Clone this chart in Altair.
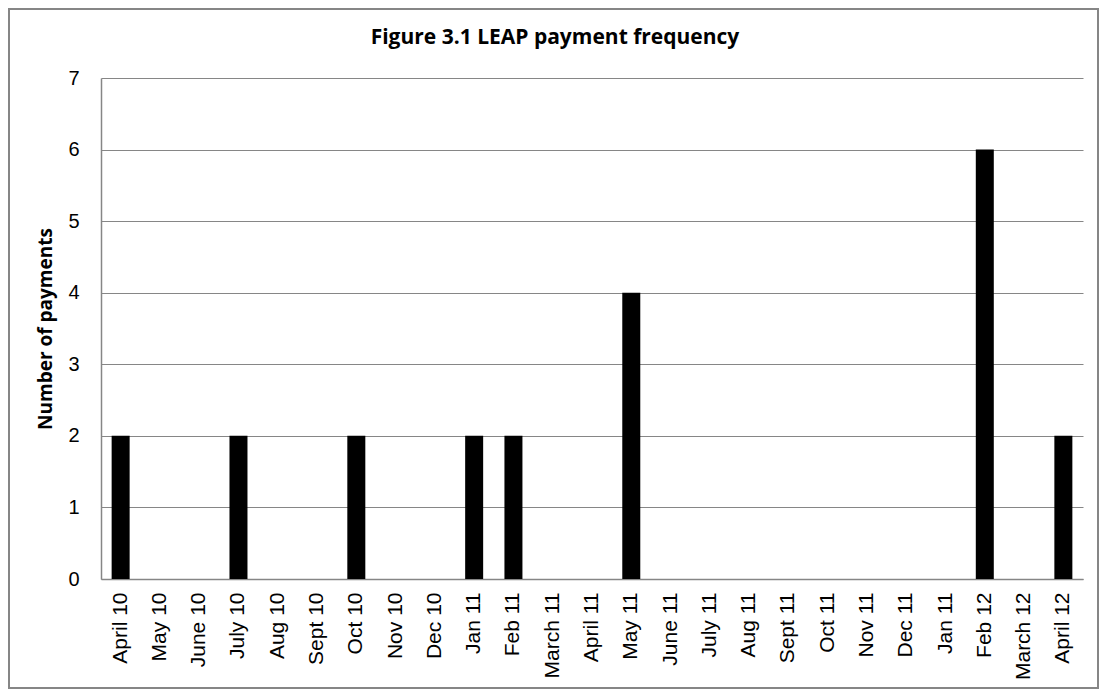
import json
import altair as alt
import pandas as pd

months = ["April 10", "May 10", "June 10", "July 10", "Aug 10", "Sept 10", "Oct 10",
          "Nov 10", "Dec 10", "Jan 11", "Feb 11", "March 11", "April 11", "May 11",
          "June 11", "July 11", "Aug 11", "Sept 11", "Oct 11", "Nov 11", "Dec 11",
          "Jan 11", "Feb 12", "March 12", "April 12"]
payments = [2, 0, 0, 2, 0, 0, 2, 0, 0, 2, 2, 0, 0, 4, 0, 0, 0, 0, 0, 0, 0, 0, 6, 0, 2]
title_text = "Figure 3.1 LEAP payment frequency"

df = pd.DataFrame({"idx": list(range(len(months))), "month": months, "n": payments})

W, H = 982, 501
PL, PT, PR, PB = 93, 70, 16, 110
grid_col = "#868686"

label_expr = json.dumps(months) + "[datum.value]"

bars = alt.Chart(df).mark_bar(color="black", width=18).encode(
    x=alt.X("idx:O", sort=None,
            axis=alt.Axis(title=None, labelExpr=label_expr, labelAngle=-90,
                          labelFont="Liberation Sans", labelFontSize=21,
                          labelColor="black", labelPadding=13, ticks=False,
                          domainColor=grid_col, domainWidth=1.5, grid=False)),
    y=alt.Y("n:Q", scale=alt.Scale(domain=[0, 7]),
            axis=alt.Axis(title="Number of payments", values=list(range(8)),
                          titleFont="Open Sans", titleFontSize=19, titleFontWeight="bold",
                          titleColor="black", titlePadding=12,
                          labelFont="Liberation Sans", labelFontSize=20,
                          labelColor="black", labelPadding=22, ticks=False,
                          domainColor=grid_col, domainWidth=1.5,
                          gridColor=grid_col, gridWidth=1, gridOpacity=1)),
)

frame = alt.Chart(pd.DataFrame({"a": [0]})).mark_rect(
    fill=None, stroke=grid_col, strokeWidth=2
).encode(
    x=alt.value(-PL + 1), x2=alt.value(W + PR - 1),
    y=alt.value(-PT + 1), y2=alt.value(H + PB - 1),
)

title = alt.Chart(pd.DataFrame({"t": [title_text]})).mark_text(
    font="Open Sans", fontSize=21, fontWeight="bold", color="black",
    align="center", baseline="middle"
).encode(text="t:N", x=alt.value(454), y=alt.value(-40))

chart = alt.layer(frame, title, bars).properties(
    width=W, height=H,
    autosize=alt.AutoSizeParams(type="none"),
    padding={"left": PL, "top": PT, "right": PR, "bottom": PB},
).configure_view(stroke=None).configure_scale(bandPaddingInner=0.54)

chart.save("out.html", embed_options={"renderer": "svg", "actions": False})
